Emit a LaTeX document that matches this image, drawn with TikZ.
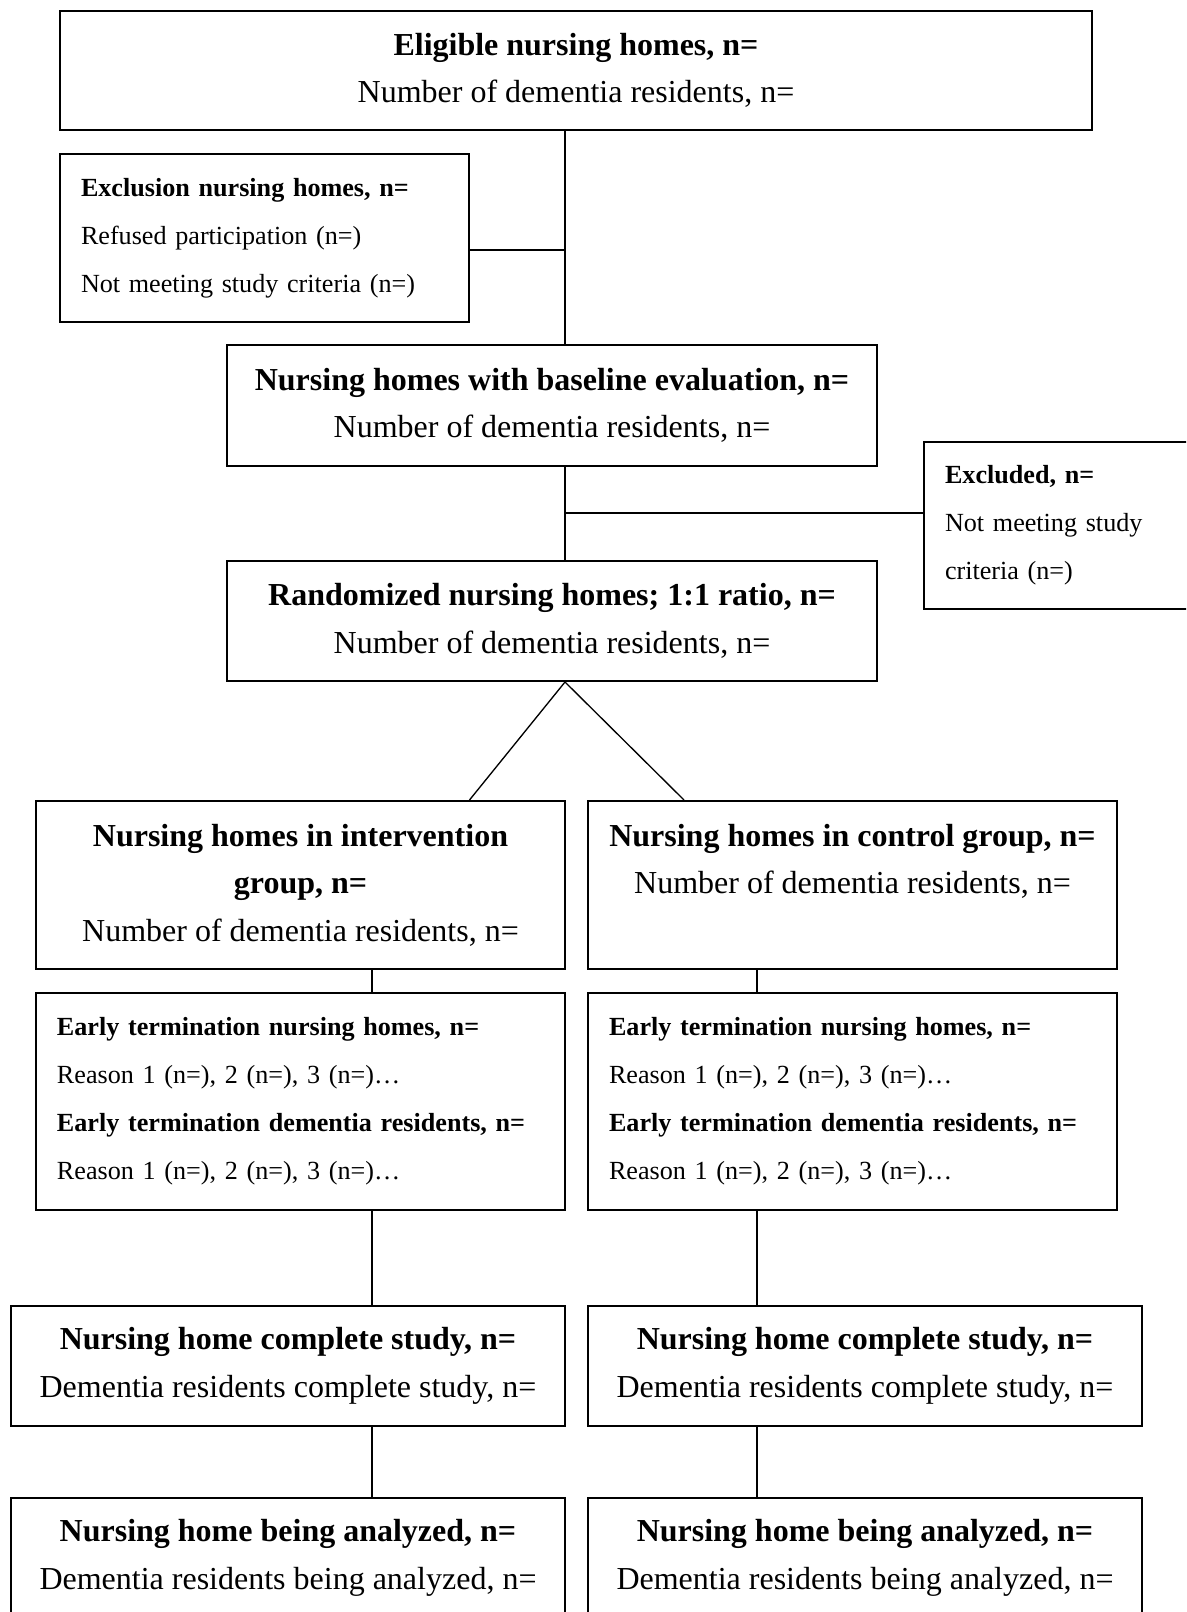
\documentclass[tikz,border=0pt]{standalone}
\usepackage{fontspec}
\setmainfont{Liberation Serif}
\usetikzlibrary{positioning,calc}

\begin{document}
\begin{tikzpicture}[x=0.375pt,y=-0.375pt,
  box/.style 2 args={draw,line width=0.75pt,inner sep=0pt,align=center,
    minimum width=#1*0.375pt,minimum height=#2*0.375pt,
    font=\fontsize{12}{17.8}\selectfont},
  note/.style 2 args={draw,line width=0.75pt,inner xsep=7.875pt,inner ysep=0pt,align=left,
    minimum width=#1*0.375pt,text width=#1*0.375pt-15.75pt,minimum height=#2*0.375pt,
    font=\fontsize{9.8}{18}\selectfont},
  link/.style={line width=0.5pt}]
  \useasboundingbox (0,0) rectangle (1186,1612);
  \clip (0,0) rectangle (1186,1612);

  \node[box={1032}{119}] (eligible) at (576,70.5) {\textbf{Eligible nursing homes, n=}\\Number of dementia residents, n=};
  \node[note={409}{168}] (exclusion) at (264.5,238) {\textbf{Exclusion nursing homes, n=}\\Refused participation (n=)\\Not meeting study criteria (n=)};
  \node[box={650}{121}] (baseline) at (552,405.5) {\textbf{Nursing homes with baseline evaluation, n=}\\Number of dementia residents, n=};
  \node[note={300}{167}] (excluded) at (1074,525.5) {\textbf{Excluded, n=}\\Not meeting study\\criteria (n=)};
  \node[box={650}{120}] (randomized) at (552,621) {\textbf{Randomized nursing homes; 1:1 ratio, n=}\\Number of dementia residents, n=};

  \node[box={529}{168}] (interv) at (300.5,885) {\textbf{Nursing homes in intervention}\\\textbf{group, n=}\\Number of dementia residents, n=};
  \node[box={529}{168}] (control) at (852.5,885) {\textbf{Nursing homes in control group, n=}\\Number of dementia residents, n=\\\phantom{,}};

  \node[note={529}{217}] (termInterv) at (300.5,1101.5) {\textbf{Early termination nursing homes, n=}\\Reason 1 (n=), 2 (n=), 3 (n=)\dots\\\textbf{Early termination dementia residents, n=}\\Reason 1 (n=), 2 (n=), 3 (n=)\dots};
  \node[note={529}{217}] (termControl) at (852.5,1101.5) {\textbf{Early termination nursing homes, n=}\\Reason 1 (n=), 2 (n=), 3 (n=)\dots\\\textbf{Early termination dementia residents, n=}\\Reason 1 (n=), 2 (n=), 3 (n=)\dots};

  \node[box={554}{120}] (completeInterv) at (288,1366) {\textbf{Nursing home complete study, n=}\\Dementia residents complete study, n=};
  \node[box={554}{120}] (completeControl) at (865,1366) {\textbf{Nursing home complete study, n=}\\Dementia residents complete study, n=};
  \node[box={554}{120}] (analyzedInterv) at (288,1558) {\textbf{Nursing home being analyzed, n=}\\Dementia residents being analyzed, n=};
  \node[box={554}{120}] (analyzedControl) at (865,1558) {\textbf{Nursing home being analyzed, n=}\\Dementia residents being analyzed, n=};

  % trunk and the two arms
  \coordinate (trunk) at (565,0);
  \coordinate (colI) at (372,0);
  \coordinate (colC) at (757,0);

  \draw[link] (eligible.south -| trunk) -- (baseline.north -| trunk);
  \draw[link] ($(exclusion.east)+(0,12)$) -- ($(exclusion.east -| trunk)+(0,12)$);
  \draw[link] (baseline.south -| trunk) -- (randomized.north -| trunk);
  \draw[link] ($(excluded.west)+(0,-12.5)$) -- ($(excluded.west -| trunk)+(0,-12.5)$);
  \draw[link] ($(interv.north)+(169,0)$) -- (randomized.south -| trunk) -- ($(control.north)+(-168.5,0)$);

  \foreach \a/\b in {interv/termInterv,termInterv/completeInterv,completeInterv/analyzedInterv}
    \draw[link] (\a.south -| colI) -- (\b.north -| colI);
  \foreach \a/\b in {control/termControl,termControl/completeControl,completeControl/analyzedControl}
    \draw[link] (\a.south -| colC) -- (\b.north -| colC);
\end{tikzpicture}
\end{document}
